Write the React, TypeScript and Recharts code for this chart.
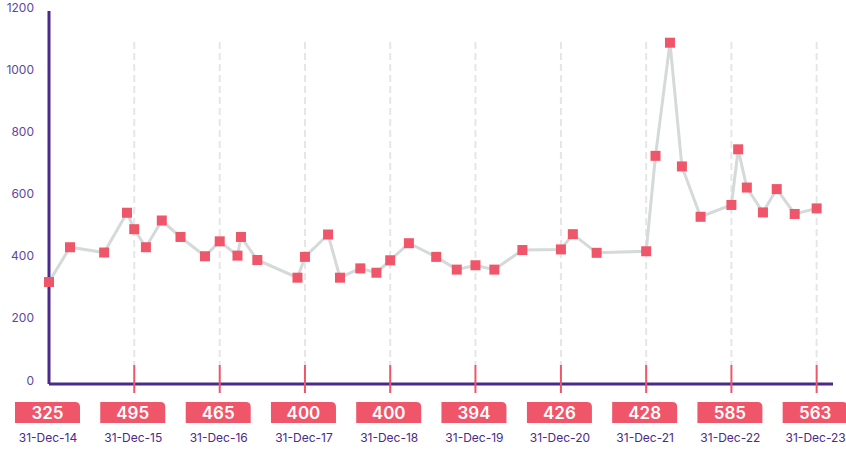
import React from "react";
import { ComposedChart, Line, XAxis, YAxis, CartesianGrid } from "recharts";

// dates of each plotted point and its value
const pointDates = [
    "2014-12-31", "2015-03-31", "2015-08-24", "2015-11-30", "2015-12-31",
    "2016-02-19", "2016-04-27", "2016-07-16", "2016-10-29", "2016-12-31",
    "2017-03-17", "2017-04-01", "2017-06-10", "2017-11-29", "2017-12-31",
    "2018-04-09", "2018-05-30", "2018-08-25", "2018-11-02", "2018-12-31",
    "2019-03-21", "2019-07-16", "2019-10-12", "2019-12-31", "2020-03-21",
    "2020-07-19", "2020-12-31", "2021-02-20", "2021-06-02", "2021-12-31",
    "2022-02-09", "2022-04-12", "2022-06-02", "2022-08-21", "2022-12-31",
    "2023-01-29", "2023-03-07", "2023-05-15", "2023-07-13", "2023-09-28",
    "2023-12-31",
];
const pointValues = [
    328, 440, 423, 551, 498,
    440, 526, 473, 411, 459,
    413, 473, 399, 342, 409,
    481, 342, 372, 358, 398,
    453, 409, 368, 382, 368,
    431, 433, 482, 422, 427,
    734, 1098, 700, 538, 576,
    755, 632, 552, 627, 547,
    565,
];

// year-end markers along the bottom
const yearTicks = [
    "2014-12-31", "2015-12-31", "2016-12-31", "2017-12-31", "2018-12-31",
    "2019-12-31", "2020-12-31", "2021-12-31", "2022-12-31", "2023-12-31",
];
const yearLabels = [
    "31-Dec-14", "31-Dec-15", "31-Dec-16", "31-Dec-17", "31-Dec-18",
    "31-Dec-19", "31-Dec-20", "31-Dec-21", "31-Dec-22", "31-Dec-23",
];
const yearValues = [325, 495, 465, 400, 400, 394, 426, 428, 585, 563];
const yTicks = [0, 200, 400, 600, 800, 1000, 1200];

const RED = "#f0566a";
const PURPLE = "#4a2a8a";
const FONT = "Inter, 'Noto Sans', sans-serif";

const toTime = (s: string) => new Date(s + "T00:00:00Z").getTime();
const data = pointDates.map((d, i) => ({ t: toTime(d), value: pointValues[i] }));
const tickTimes = yearTicks.map(toTime);

// box with only the top-right corner rounded
function boxPath(x: number, y: number, w: number, h: number, r: number) {
    return `M${x},${y} H${x + w - r} Q${x + w},${y} ${x + w},${y + r} V${y + h} H${x} Z`;
}

const YearTick = ({ x, y, payload }: any) => {
    const i = tickTimes.indexOf(payload.value);
    if (i < 0) return null;
    return (
        <g>
            {i > 0 && (
                <line x1={x} x2={x} y1={y - 19} y2={y + 9} stroke={RED} strokeWidth={2} />
            )}
            <path d={boxPath(x - 34, y + 18, 65, 21, 5)} fill={RED} />
            <text
                x={x - 1.5}
                y={y + 29}
                textAnchor="middle"
                dominantBaseline="central"
                fill="#fff"
                fontSize={17}
                fontWeight={600}
                fontFamily={FONT}
            >
                {yearValues[i]}
            </text>
            <text
                x={x - 1}
                y={y + 53}
                textAnchor="middle"
                dominantBaseline="central"
                fill={PURPLE}
                fontSize={12}
                fontFamily={FONT}
            >
                {yearLabels[i]}
            </text>
        </g>
    );
};

const ValueTick = ({ x, y, payload }: any) => (
    <text
        x={x - 15}
        y={y + 0.5}
        textAnchor="end"
        fill="#5d479e"
        fontSize={12}
        fontFamily={FONT}
    >
        {payload.value}
    </text>
);

const SquareDot = ({ cx, cy, index }: any) => (
    <rect key={index} x={cx - 5} y={cy - 5} width={10} height={10} fill={RED} />
);

export default function App() {
    return (
        <div style={{ width: 846, height: 451 }}>
            <style>{`body{margin:0}`}</style>
            <ComposedChart
                width={846}
                height={451}
                data={data}
                margin={{ top: 11, right: 13, bottom: 0, left: 0 }}
            >
                <CartesianGrid
                    horizontal={false}
                    verticalValues={tickTimes.slice(1)}
                    vertical={(p: any) => (
                        <line
                            key={p.key ?? p.index}
                            x1={p.x1}
                            x2={p.x2}
                            y1={42}
                            y2={365}
                            stroke="#e6e6e6"
                            strokeWidth={2}
                            strokeDasharray="7 4"
                        />
                    )}
                />
                <XAxis
                    dataKey="t"
                    type="number"
                    scale="linear"
                    domain={[tickTimes[0], toTime("2024-03-10")]}
                    ticks={tickTimes}
                    interval={0}
                    tick={<YearTick />}
                    tickLine={false}
                    tickSize={0}
                    tickMargin={0}
                    axisLine={{ stroke: PURPLE, strokeWidth: 3 }}
                    height={67}
                />
                <YAxis
                    domain={[0, 1200]}
                    ticks={yTicks}
                    interval={0}
                    tick={<ValueTick />}
                    tickLine={false}
                    tickSize={0}
                    tickMargin={0}
                    axisLine={{ stroke: PURPLE, strokeWidth: 3 }}
                    width={49}
                />
                <Line
                    type="linear"
                    dataKey="value"
                    stroke="#d5d9d9"
                    strokeWidth={3}
                    dot={<SquareDot />}
                    activeDot={false}
                    isAnimationActive={false}
                />
            </ComposedChart>
        </div>
    );
}
